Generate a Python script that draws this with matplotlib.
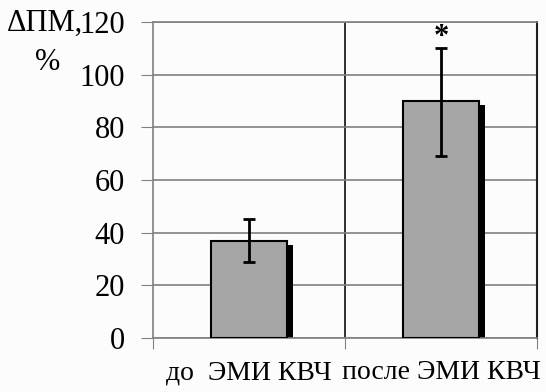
import matplotlib.pyplot as plt
import numpy as np

plt.rcParams['font.family'] = ['Liberation Serif', 'DejaVu Serif']

categories = ["до  ЭМИ КВЧ", "после ЭМИ КВЧ"]
values = [37, 90]
err_lo = [8, 21]
err_hi = [8, 20]
y_ticks = [0, 20, 40, 60, 80, 100, 120]
star_y = 114

fig = plt.figure(figsize=(5.46, 3.92), dpi=100)
fig.patch.set_facecolor('#fcfcfc')
ax = fig.add_axes([0.2802, 0.1378, 0.7033, 0.8061])
ax.set_facecolor('#fcfcfc')

x = np.arange(len(values))
w = 0.4
shadow_dx = 0.027
# shadow behind bars
ax.bar(x + shadow_dx, np.array(values) - 1.6, width=w, color='black', zorder=2)
ax.bar(x, values, width=w, color='#a6a6a6', edgecolor='black', linewidth=1.5, zorder=3)
ax.errorbar(x, values, yerr=[err_lo, err_hi], fmt='none', ecolor='black',
            elinewidth=2, capsize=4.5, capthick=2, zorder=4)
ax.text(1, star_y, '*', ha='center', va='center', fontsize=22, fontweight='bold')

ax.set_xlim(-0.5, 1.5)
ax.set_ylim(0, 120)
ax.set_yticks(y_ticks)
ax.tick_params(axis='y', labelsize=22, direction='out', length=9, color='#808080', pad=11)
ax.set_xticks([-0.5, 0.5, 1.5])
ax.set_xticklabels([])
ax.set_xticks(x, minor=True)
ax.set_xticklabels(categories, minor=True)
ax.tick_params(axis='x', which='major', direction='out', length=8, color='#808080')
ax.tick_params(axis='x', which='minor', length=0, labelsize=20, pad=16)

ax.grid(True, axis='y', color='#808080', linewidth=1.2, zorder=0)
ax.axvline(0.5, color='#202020', linewidth=1.3, zorder=1)
for s in ['top', 'left', 'bottom']:
    ax.spines[s].set_color('#808080')
    ax.spines[s].set_linewidth(1.2)
ax.spines['right'].set_color('#202020')
ax.spines['right'].set_linewidth(1.5)

fig.text(0.083, 0.94, 'ΔПМ,', fontsize=22, ha='center', va='center')
fig.text(0.088, 0.84, '%', fontsize=22, ha='center', va='center')

plt.savefig('out.png', dpi=100, facecolor=fig.get_facecolor())
